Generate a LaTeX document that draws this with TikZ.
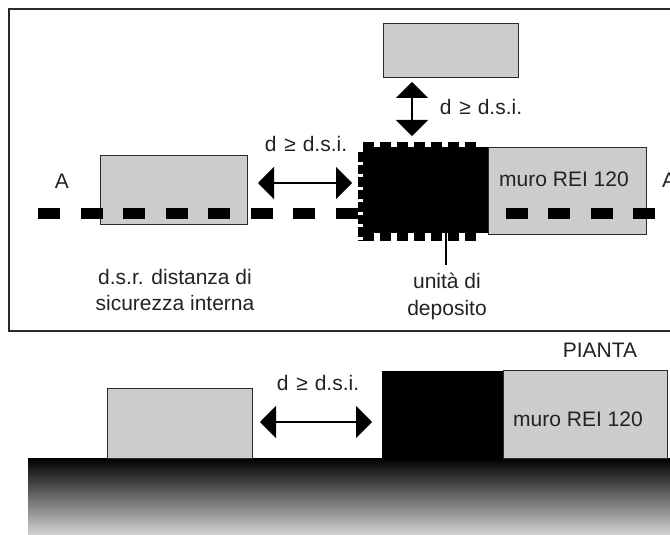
\documentclass[tikz,border=0pt]{standalone}
\usepackage{fontspec}
\setmainfont{Liberation Sans}
\usetikzlibrary{arrows.meta}
\definecolor{boxgray}{HTML}{CCCCCC}
\definecolor{inkdark}{HTML}{2A2A2A}
\definecolor{txt}{HTML}{222222}
\newcommand{\dsilabel}{d\hspace{2pt} ≥\hspace{1pt} d.s.i.}
\tikzset{
  grayrect/.style={draw=inkdark,line width=1.3pt,fill=boxgray,inner sep=0pt,anchor=north west},
  blackrect/.style={fill=black,inner sep=0pt,anchor=north west},
  lab/.style={inner sep=0pt,text=txt,font=\fontsize{21}{26.5}\selectfont,align=center},
  dimarrow/.style={line width=1.5pt,{Triangle[width=32pt,length=16pt]}-{Triangle[width=32pt,length=16pt]}},
  axisline/.style={line width=11pt,black,dash pattern=on 22pt off 20.5pt},
  teeth/.style={black}
}
\begin{document}
\begin{tikzpicture}[x=1pt,y=-1pt]
\useasboundingbox (0,0) rectangle (670,535);
\clip (0,0) rectangle (670,535);
% frame
\coordinate (fa) at (675,9);
\coordinate (fb) at (9,9);
\coordinate (fc) at (9,331);
\coordinate (fd) at (675,331);
\draw[inkdark,line width=1.5pt] (fa) -- (fb) -- (fc) -- (fd);
% plan boxes
\node[grayrect,minimum width=135pt,minimum height=54pt] (top) at (383,23) {};
\node[grayrect,minimum width=147pt,minimum height=69pt] (left) at (100,155) {};
\node[grayrect,minimum width=158pt,minimum height=87pt] (wall) at (488,147) {};
% axis
\coordinate (axa) at (38,213.5);
\coordinate (axb) at (660,213.5);
\draw[axisline] (axa) -- (axb);
% unit with crenellated edge
\node[blackrect,minimum width=125pt,minimum height=86pt] (unit) at (363,147) {};
\coordinate (tl) at (363,144.5);
\coordinate (tr) at (477,144.5);
\coordinate (bl) at (363,236.5);
\coordinate (br) at (477,236.5);
\coordinate (ll) at (360.5,152);
\coordinate (lb) at (360.5,241);
\draw[teeth,line width=5pt,dash pattern=on 11.2pt off 5.8pt] (tl) -- (tr);
\draw[teeth,line width=9pt,dash pattern=on 11.2pt off 5.8pt] (bl) -- (br);
\draw[teeth,line width=5pt,dash pattern=on 9.5pt off 3pt] (ll) -- (lb);
% leader
\coordinate (lead) at (446,265);
\draw[black,line width=1.2pt] (unit.south -| lead) -- (lead);
% arrows
\coordinate (v1) at (412,82);
\coordinate (v2) at (412,136);
\draw[dimarrow] (v1) -- (v2);
\coordinate (h1) at (258,183);
\coordinate (h2) at (352,183);
\draw[dimarrow] (h1) -- (h2);
% labels
\node[lab] (dv) at (481,107) {\dsilabel};
\node[lab] (dh) at (306,144) {\dsilabel};
\node[lab] (murotop) at (564,179) {muro REI 120};
\node[lab] (aleft) at (62,181) {A};
\node[lab,anchor=west] (aright) at (662,180) {A};
\node[lab] (dsr) at (175,290) {d.s.r. distanza di\\sicurezza interna};
\node[lab] (dep) at (447,296.5) {unità di\\deposito};
\node[lab] (pianta) at (600,350) {PIANTA};
% section
\node[inner sep=0pt,anchor=north west,minimum width=645pt,minimum height=77pt,top color=black,bottom color=boxgray!85!white,shading angle=0] (ground) at (28,458) {};
\node[grayrect,minimum width=145pt,minimum height=70pt] (sleft) at (107,388) {};
\node[blackrect,minimum width=122pt,minimum height=87pt] (sunit) at (382,371) {};
\node[grayrect,minimum width=164pt,minimum height=88pt] (swall) at (503,370) {};
\coordinate (s1) at (260,422);
\coordinate (s2) at (372,422);
\draw[dimarrow] (s1) -- (s2);
\node[lab] (ds) at (318,383) {\dsilabel};
\node[lab] (murobot) at (578,419) {muro REI 120};
\end{tikzpicture}
\end{document}
